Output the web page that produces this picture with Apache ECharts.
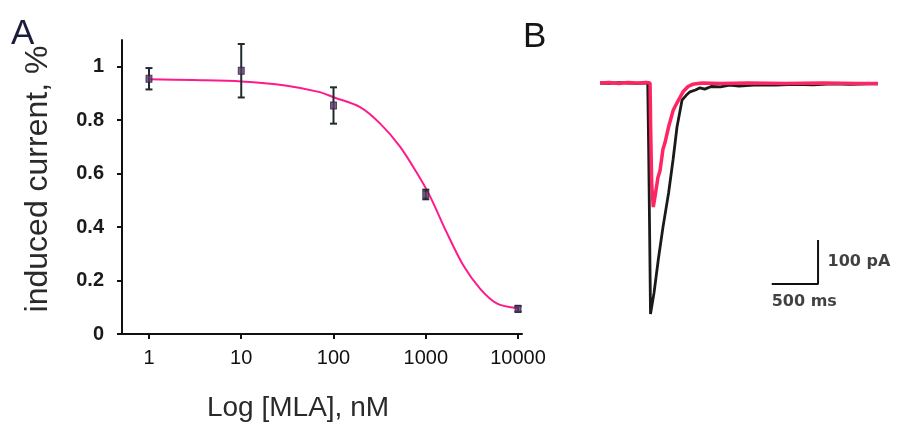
<!DOCTYPE html>
<html>
<head>
<meta charset="utf-8">
<script src="https://cdn.jsdelivr.net/npm/echarts@6/dist/echarts.min.js"></script>
<style>
html,body{margin:0;padding:0;background:#fff;}
#chart{width:897px;height:427px;}
</style>
</head>
<body>
<div id="chart"></div>
<script>
// ---- Panel A data (MLA concentration-response) ----
const concentrations = [1, 10, 100, 1000, 10000];
const meanCurrent = [0.955, 0.985, 0.855, 0.522, 0.094];
const errCurrent = [0.04, 0.1, 0.068, 0.018, 0.01];
const fitConc = [1, 3, 10, 30, 71, 100, 194, 319, 526, 800, 1110, 1685, 2550, 3870, 5870, 10000];
const fitCurrent = [0.953, 0.950, 0.945, 0.93, 0.905, 0.886, 0.849, 0.788, 0.701, 0.603, 0.516, 0.380, 0.257, 0.170, 0.115, 0.096];
const xTickValues = [1, 10, 100, 1000, 10000];
const yTickValues = [0, 0.2, 0.4, 0.6, 0.8, 1];

// ---- Panel B data (current traces, time in ms, current in pA) ----
const controlTime = [0, 100, 200, 300, 400, 480, 515, 525, 535, 545, 555, 583, 630, 680, 740, 788, 831, 885, 930, 971, 1030, 1080, 1130, 1200, 1300, 1400, 1500, 1700, 1900, 2100, 2300, 2500, 2700, 2900, 3000];
const controlCurrent = [0, -1, 1, 0, -1, 0, 0, -150, -330, -525, -522, -477, -400, -327, -250, -175, -100, -39, -28, -20, -16, -11, -14, -8, -9, -5, -7, -4, -5, -3, -4, -2, -3, -2, -2];
const mlaTime = [0, 100, 200, 300, 400, 500, 540, 548, 558, 575, 600, 625, 647, 680, 701, 740, 790, 831, 896, 950, 1000, 1100, 1300, 1600, 2000, 2400, 2800, 3000];
const mlaCurrent = [0, 1, -1, 1, 0, 1, 0, -120, -230, -282, -250, -215, -200, -150, -136, -100, -62, -45, -20, -8, -3, 0, -1, 0, -1, 0, -1, -1];
const scaleBarTime = [1853, 2353, 2353];
const scaleBarCurrent = [-457, -457, -357];

const font = 'Liberation Sans, Arial, Helvetica, sans-serif';
const chart = echarts.init(document.getElementById('chart'), null, {renderer: 'canvas'});

const errData = concentrations.map((c, i) => [c, meanCurrent[i] - errCurrent[i], meanCurrent[i] + errCurrent[i]]);

const option = {
  backgroundColor: '#ffffff',
  animation: false,
  textStyle: {fontFamily: font},
  title: [
    {text: 'A', left: 11, top: 17, padding: 0, textStyle: {fontSize: 35, fontWeight: 'normal', color: '#1c1c3c', fontFamily: font}},
    {text: 'B', left: 523, top: 20, padding: 0, textStyle: {fontSize: 35, fontWeight: 'normal', color: '#151515', fontFamily: font}}
  ],
  grid: [
    {left: 122, top: 40, width: 400, height: 296, containLabel: false},
    {left: 600, top: 61, width: 278, height: 264, containLabel: false}
  ],
  xAxis: [
    {
      gridIndex: 0, type: 'log', logBase: 10, min: 0.51, max: 11045,
      name: 'Log [MLA], nM', nameLocation: 'middle', nameGap: 60,
      nameTextStyle: {fontSize: 28, color: '#2a2a2a', fontFamily: font, padding: [0, 48, 0, 0]},
      axisLine: {show: true, onZero: false, lineStyle: {color: '#111', width: 2}},
      axisTick: {show: true, inside: false, length: 5, lineStyle: {color: '#111', width: 2}, customValues: xTickValues},
      axisLabel: {show: true, margin: 14, fontSize: 20, color: '#111', fontFamily: font, customValues: xTickValues,
        formatter: v => String(Math.round(v))},
      splitLine: {show: false}, minorTick: {show: false}, minorSplitLine: {show: false}
    },
    {
      gridIndex: 1, type: 'value', min: 0, max: 3000, show: false
    }
  ],
  yAxis: [
    {
      gridIndex: 0, type: 'value', min: 0, max: 1.1,
      name: 'induced current, %', nameLocation: 'middle', nameGap: 68,
      nameTextStyle: {fontSize: 32, color: '#2a2a2a', fontFamily: font, padding: [0, 0, 0, 16]},
      axisLine: {show: true, onZero: false, lineStyle: {color: '#111', width: 2}},
      axisTick: {show: true, inside: false, length: 5, lineStyle: {color: '#111', width: 2}, customValues: yTickValues},
      axisLabel: {show: true, margin: 18, fontSize: 20, fontWeight: 'bold', color: '#1a1a1a', fontFamily: font, customValues: yTickValues,
        formatter: v => String(Math.round(v * 10) / 10)},
      splitLine: {show: false}
    },
    {
      gridIndex: 1, type: 'value', min: -550, max: 50, show: false
    }
  ],
  series: [
    {
      name: 'fit', type: 'line', xAxisIndex: 0, yAxisIndex: 0,
      data: fitConc.map((c, i) => [c, fitCurrent[i]]),
      smooth: 0.3, showSymbol: false, symbol: 'none',
      lineStyle: {color: '#ff1a8c', width: 2}, z: 3
    },
    {
      name: 'error', type: 'custom', xAxisIndex: 0, yAxisIndex: 0,
      data: errData, z: 4,
      renderItem: function (params, api) {
        const x = api.value(0);
        const lo = api.coord([x, api.value(1)]);
        const hi = api.coord([x, api.value(2)]);
        const cap = 3.5;
        const st = {stroke: '#1f2b2d', lineWidth: 2};
        return {
          type: 'group',
          children: [
            {type: 'line', shape: {x1: lo[0], y1: lo[1], x2: hi[0], y2: hi[1]}, style: st},
            {type: 'line', shape: {x1: lo[0] - cap, y1: lo[1], x2: lo[0] + cap, y2: lo[1]}, style: st},
            {type: 'line', shape: {x1: hi[0] - cap, y1: hi[1], x2: hi[0] + cap, y2: hi[1]}, style: st}
          ]
        };
      }
    },
    {
      name: 'mean', type: 'scatter', xAxisIndex: 0, yAxisIndex: 0,
      data: concentrations.map((c, i) => [c, meanCurrent[i]]),
      symbol: 'rect', symbolSize: [6, 7],
      itemStyle: {color: '#5b3a6e', borderColor: '#2a1f33', borderWidth: 1}, z: 5
    },
    {
      name: 'control', type: 'line', xAxisIndex: 1, yAxisIndex: 1,
      data: controlTime.map((t, i) => [t, controlCurrent[i]]),
      showSymbol: false, symbol: 'none', smooth: false,
      lineStyle: {color: '#1a1a1a', width: 2.8}, z: 3
    },
    {
      name: 'MLA', type: 'line', xAxisIndex: 1, yAxisIndex: 1,
      data: mlaTime.map((t, i) => [t, mlaCurrent[i]]),
      showSymbol: false, symbol: 'none', smooth: false,
      lineStyle: {color: '#ff2462', width: 3.5}, z: 4
    },
    {
      name: 'scalebar', type: 'line', xAxisIndex: 1, yAxisIndex: 1,
      data: scaleBarTime.map((t, i) => [t, scaleBarCurrent[i]]),
      showSymbol: false, symbol: 'none',
      lineStyle: {color: '#111', width: 2}, z: 3
    },
    {
      name: 'scalelabels', type: 'scatter', xAxisIndex: 1, yAxisIndex: 1,
      symbolSize: 1, itemStyle: {color: 'rgba(0,0,0,0)'},
      data: [
        {value: [scaleBarTime[2], (scaleBarCurrent[1] + scaleBarCurrent[2]) / 2],
          label: {show: true, position: 'right', distance: 9, formatter: '100 pA', fontSize: 16, fontWeight: 'bold', color: '#111', fontFamily: 'DejaVu Sans, sans-serif'}},
        {value: [scaleBarTime[0], scaleBarCurrent[0]],
          label: {show: true, position: 'bottom', align: 'left', distance: 9, formatter: '500 ms', fontSize: 16, fontWeight: 'bold', color: '#111', fontFamily: 'DejaVu Sans, sans-serif'}}
      ],
      z: 5
    }
  ]
};
chart.setOption(option);
</script>
</body>
</html>
